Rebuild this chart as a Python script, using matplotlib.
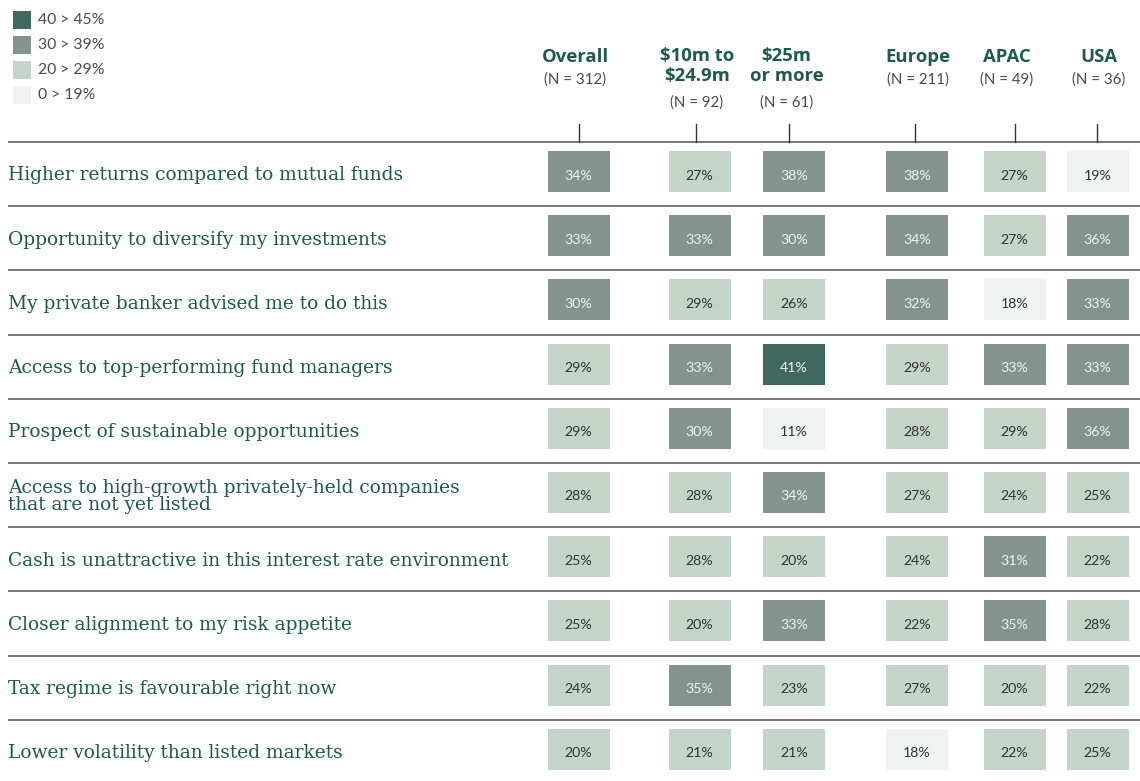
import matplotlib
matplotlib.use("Agg")
import matplotlib.pyplot as plt
from matplotlib.patches import Rectangle

# ---- data ----
row_labels = [
    "Higher returns compared to mutual funds",
    "Opportunity to diversify my investments",
    "My private banker advised me to do this",
    "Access to top-performing fund managers",
    "Prospect of sustainable opportunities",
    "Access to high-growth privately-held companies\nthat are not yet listed",
    "Cash is unattractive in this interest rate environment",
    "Closer alignment to my risk appetite",
    "Tax regime is favourable right now",
    "Lower volatility than listed markets",
]
col_titles = ["Overall", "$10m to\n$24.9m", "$25m\nor more", "Europe", "APAC", "USA"]
col_n = ["(N = 312)", "(N = 92)", "(N = 61)", "(N = 211)", "(N = 49)", "(N = 36)"]

overall = [34, 33, 30, 29, 29, 28, 25, 25, 24, 20]
m10_249 = [27, 33, 29, 33, 30, 28, 28, 20, 35, 21]
m25_plus = [38, 30, 26, 41, 11, 34, 20, 33, 23, 21]
europe = [38, 34, 32, 29, 28, 27, 24, 22, 27, 18]
apac = [27, 27, 18, 33, 29, 24, 31, 35, 20, 22]
usa = [19, 36, 33, 33, 36, 25, 22, 28, 22, 25]
columns = [overall, m10_249, m25_plus, europe, apac, usa]

legend_labels = ["40 > 45%", "30 > 39%", "20 > 29%", "0 > 19%"]

# ---- style ----
C_DARK = "#41685e"
C_MID = "#83948e"
C_LIGHT = "#c4d4c9"
C_VLIGHT = "#f0f2f1"
legend_colors = [C_DARK, C_MID, C_LIGHT, C_VLIGHT]
GREEN_TXT = "#1d5a4c"

def cell_color(v):
    if v >= 40:
        return C_DARK
    if v >= 30:
        return C_MID
    if v >= 20:
        return C_LIGHT
    return C_VLIGHT

W, H = 1140, 781
fig = plt.figure(figsize=(W / 100, H / 100), dpi=100)
ax = fig.add_axes([0, 0, 1, 1])
ax.set_xlim(0, W)
ax.set_ylim(H, 0)
ax.axis("off")

col_x = [578.5, 699.5, 794, 917, 1014.5, 1097.5]
tick_x = [579, 696, 789, 915, 1014.5, 1097]
head_x = [575, 697, 786.5, 918, 1007, 1099]
row_top0 = 142
row_step = 64.2
cell_w, cell_h = 62, 41

# header lines & ticks
for i in range(len(row_labels)):
    y = row_top0 + i * row_step
    ax.plot([8, W], [y, y], color="#6b6b6b", lw=1.3, solid_capstyle="butt")
for tx in tick_x:
    ax.plot([tx, tx], [124, row_top0], color="#333333", lw=1.0)

# headers
for j, (t, n) in enumerate(zip(col_titles, col_n)):
    nlines = t.count("\n") + 1
    ax.text(head_x[j], 47.5, t, ha="center", va="top", fontsize=13.3,
            fontweight="bold", color=GREEN_TXT, family="Open Sans",
            linespacing=1.08)
    ny = 79.5 if nlines == 1 else 102.5
    ax.text(head_x[j], ny, n, ha="center", va="center", fontsize=10.8,
            color="#4a4a4a", family="Lato")

# rows
for i, lab in enumerate(row_labels):
    y = row_top0 + i * row_step
    ax.text(8, y + 33.5, lab, ha="left", va="center", fontsize=13.4,
            color=GREEN_TXT, family="DejaVu Serif", linespacing=0.98)
    for j, col in enumerate(columns):
        v = col[i]
        c = cell_color(v)
        ax.bar(col_x[j], cell_h, bottom=y + 9, width=cell_w, color=c,
               edgecolor="none", align="center")
        tc = "#eef2ef" if v >= 30 else "#333333"
        ax.text(col_x[j], y + 33.5, f"{v}%", ha="center", va="center",
                fontsize=10.2, color=tc, family="Lato")

# legend
for k, (lab, c) in enumerate(zip(legend_labels, legend_colors)):
    yc = 19.5 + k * 25
    ax.add_patch(Rectangle((13, yc - 9), 18, 18, facecolor=c, edgecolor="none"))
    ax.text(38, yc + 0.5, lab, ha="left", va="center", fontsize=11.3,
            color="#4a4a4a", family="Lato")

fig.savefig("out.png", dpi=100)
